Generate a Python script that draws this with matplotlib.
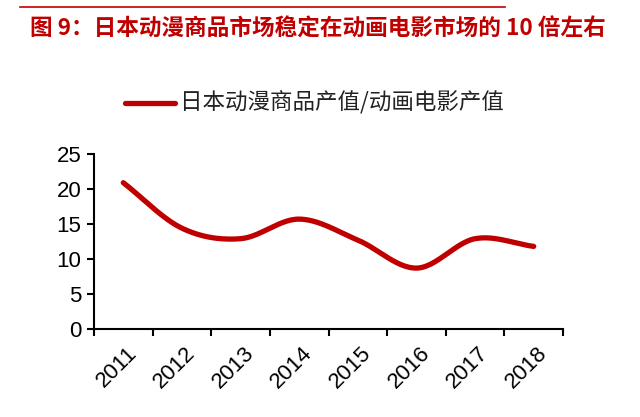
import numpy as np
import matplotlib
matplotlib.use('Agg')
import matplotlib.pyplot as plt
from matplotlib.lines import Line2D

plt.rcParams['font.family'] = ['Liberation Sans', 'Noto Sans CJK SC', 'DejaVu Sans']

years = ['2011', '2012', '2013', '2014', '2015', '2016', '2017', '2018']
ratio = [20.9, 14.4, 12.9, 15.7, 12.7, 8.7, 12.9, 11.8]
title = '图 9：日本动漫商品市场稳定在动画电影市场的 10 倍左右'
series_name = '日本动漫商品产值/动画电影产值'
red = '#C00000'


def smooth(x, y, n=30):
    # catmull-rom style smoothing, like the excel "smoothed line" option
    x = np.asarray(x, float)
    y = np.asarray(y, float)
    px = np.concatenate([[2 * x[0] - x[1]], x, [2 * x[-1] - x[-2]]])
    py = np.concatenate([[2 * y[0] - y[1]], y, [2 * y[-1] - y[-2]]])
    xs, ys = [], []
    t = np.linspace(0, 1, n)
    for i in range(1, len(px) - 2):
        p0, p1, p2, p3 = [np.array([px[j], py[j]]) for j in range(i - 1, i + 3)]
        c1 = p1 + (p2 - p0) / 6.0
        c2 = p2 - (p3 - p1) / 6.0
        pts = ((1 - t) ** 3)[:, None] * p1 + (3 * (1 - t) ** 2 * t)[:, None] * c1 \
            + (3 * (1 - t) * t ** 2)[:, None] * c2 + (t ** 3)[:, None] * p2
        xs.extend(pts[:, 0])
        ys.extend(pts[:, 1])
    return np.array(xs), np.array(ys)


fig = plt.figure(figsize=(6.4, 4.17), dpi=100)
ax = fig.add_axes([94 / 640, 1 - 329 / 417, (563 - 94) / 640, (329 - 154) / 417])

xpos = np.arange(len(years))
sx, sy = smooth(xpos, ratio)
ax.plot(sx, sy, color=red, lw=3.8, solid_capstyle='round')

ax.set_xlim(-0.5, len(years) - 0.5)
ax.set_ylim(0, 25)
ax.set_yticks([0, 5, 10, 15, 20, 25])
ax.set_xticks(np.arange(-0.5, len(years), 1.0))
ax.set_xticklabels([])
ax.set_xticks(xpos + 0.05, minor=True)
ax.set_xticklabels(years, minor=True, rotation=45, ha='right', va='top',
                   rotation_mode='anchor', fontsize=16)
ax.tick_params(axis='x', which='minor', length=0, pad=10)
ax.tick_params(axis='x', which='major', length=5, width=1.5, direction='out')
ax.tick_params(axis='y', length=5, width=1.5, direction='out', labelsize=16, pad=4)
for s in ['top', 'right']:
    ax.spines[s].set_visible(False)
for s in ['left', 'bottom']:
    ax.spines[s].set_linewidth(1.5)

# title with red rule above it
fig.add_artist(Line2D([20 / 640, 505 / 640], [1 - 7 / 417, 1 - 7 / 417], color=red, lw=1.2))
fig.text(30 / 640, 1 - 29 / 417, title, color=red, fontsize=16.3, fontweight='bold',
         family=['Noto Sans CJK SC', 'DejaVu Sans'], va='center', ha='left')

# legend
fig.add_artist(Line2D([125 / 640, 175 / 640], [1 - 103 / 417, 1 - 103 / 417],
                      color=red, lw=3.8, solid_capstyle='round'))
fig.text(180 / 640, 1 - 103 / 417, series_name, fontsize=16.2, color='#222222',
         family=['Noto Sans CJK SC', 'DejaVu Sans'], va='center', ha='left')

fig.savefig('out.png', dpi=100)
